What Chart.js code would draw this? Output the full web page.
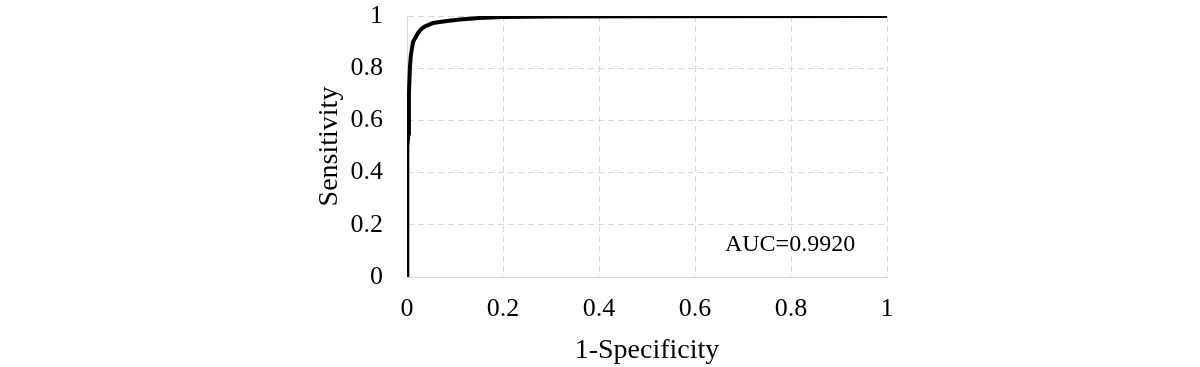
<!DOCTYPE html>
<html lang="en">
<head>
    <meta charset="UTF-8">
    <title>ROC</title>
<script src="https://cdn.jsdelivr.net/npm/chart.js@4.4.0/dist/chart.umd.min.js"></script>
<style>
    body { margin: 0; background: #fff; }
    #box { width: 1200px; height: 367px; }
</style>
</head>
<body>
    <div id="box"><canvas id="myChart"></canvas></div>
<script>
    // ROC curve values
    const fpr = [0, 0, 0.001, 0.001, 0.003, 0.004, 0.006, 0.008, 0.0125, 0.020, 0.023, 0.030, 0.037, 0.054, 0.083, 0.110, 0.150, 0.200, 0.300, 0.500, 1];
    const tpr = [0, 0.19, 0.20, 0.50, 0.55, 0.70, 0.80, 0.85, 0.90, 0.925, 0.935, 0.950, 0.960, 0.973, 0.981, 0.987, 0.992, 0.996, 0.998, 0.999, 1];
    const tickVals = [0, 0.2, 0.4, 0.6, 0.8, 1];
    const aucText = "AUC=0.9920";

    const l_points = fpr.map((v, i) => ({ x: v, y: tpr[i] }));
    const l_font = "'Liberation Serif', 'Times New Roman', serif";

    // AUC 글자는 플러그인으로
    const aucLabel = {
        id: "aucLabel",
        afterDatasetsDraw(chart) {
            const c = chart.ctx;
            c.save();
            c.font = "24px " + l_font;
            c.fillStyle = "#000";
            c.textAlign = "center";
            c.textBaseline = "middle";
            c.fillText(aucText, chart.scales.x.getPixelForValue(0.798), chart.scales.y.getPixelForValue(0.125));
            c.restore();
        }
    };

    // 축 라벨 때문에 생기는 여백 없애기
    function f_noPad(s) {
        s.paddingTop = 0; s.paddingBottom = 0;
        s.paddingLeft = 0; s.paddingRight = 0;
    }

const ctx = document.getElementById('myChart').getContext('2d');
const myChart = new Chart(ctx, {
    type: 'scatter',
    data: {
        datasets: [{
            data: l_points,
            showLine: true,
            borderColor: '#000',
            borderWidth: 4,
            pointRadius: 0,
            tension: 0
        }]
    },
    plugins: [aucLabel],
    options: {
        responsive: true,
        maintainAspectRatio: false,
        animation: false,
        layout: { padding: { left: 313, right: 313, top: 16, bottom: 0 } },
        plugins: { legend: { display: false }, tooltip: { enabled: false } },
        scales: {
            x: {
                type: 'linear', min: 0, max: 1,
                afterFit: (s) => { s.height = 90; f_noPad(s); },
                afterBuildTicks: (s) => { s.ticks = tickVals.map(v => ({ value: v })); },
                ticks: { padding: 17, color: '#000', font: { family: l_font, size: 26 }, callback: (v) => String(v) },
                grid: { color: '#d9d9d9', drawTicks: false },
                border: { display: true, color: '#d9d9d9', dash: [6, 4] },
                title: { display: true, text: '1-Specificity', color: '#000', font: { family: l_font, size: 28 }, padding: { top: 0, bottom: 0 } }
            },
            y: {
                type: 'linear', min: 0, max: 1,
                afterFit: (s) => { s.width = 94; f_noPad(s); },
                afterBuildTicks: (s) => { s.ticks = tickVals.map(v => ({ value: v })); },
                ticks: { padding: 24, color: '#000', font: { family: l_font, size: 26 }, callback: (v) => String(v) },
                grid: { color: '#d9d9d9', drawTicks: false },
                border: { display: true, color: '#d9d9d9', dash: [6, 4] },
                title: { display: true, text: 'Sensitivity', color: '#000', font: { family: l_font, size: 28 }, padding: { top: 0, bottom: 0 } }
            }
        }
    }
});
</script>
</body>
</html>
